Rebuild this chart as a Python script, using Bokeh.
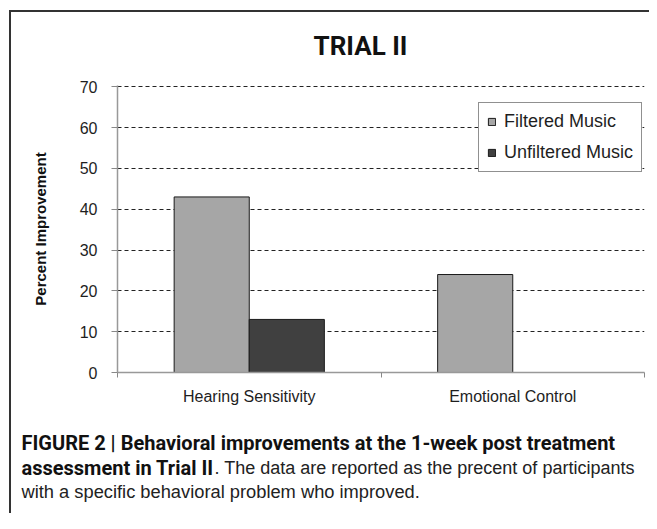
import numpy as np
from bokeh.plotting import figure
from bokeh.models import (ColumnDataSource, Range1d, FixedTicker, Legend, LegendItem, Label)
from bokeh.embed import file_html
from bokeh.resources import INLINE

# ---- data ----
categories = ["Hearing Sensitivity", "Emotional Control"]
series_names = ["Filtered Music", "Unfiltered Music"]
filtered = [43, 24]
unfiltered = [13, 0]
y_ticks = [0, 10, 20, 30, 40, 50, 60, 70]

title_text = "TRIAL II"
y_label = "Percent Improvement"
cap1 = "FIGURE 2 | Behavioral improvements at the 1-week post treatment"
cap2a = "assessment in Trial II"
cap2b = ". The data are reported as the precent of participants"
cap3 = "with a specific behavioral problem who improved."

BOLDF = "Roboto"
SANS = "Liberation Sans"

W, H = 649, 513
p = figure(width=W, height=H, output_backend="svg", toolbar_location=None,
           x_range=Range1d(0, len(categories)), y_range=Range1d(0, 70.3),
           min_border_left=117, min_border_right=5, min_border_top=85, min_border_bottom=141)
p.outline_line_color = None
p.background_fill_color = "white"
p.border_fill_color = None
p.styles = {
    "background-color": "white",
    "background-image": "linear-gradient(#333333, #333333), linear-gradient(#333333, #333333)",
    "background-size": "2px 100%, 100% 2px",
    "background-position": "9px 10px, 9px 10px",
    "background-repeat": "no-repeat",
}

centers = np.arange(len(categories)) + 0.5
bw = 0.285
src_f = ColumnDataSource(dict(x=centers - bw / 2, top=filtered))
src_u = ColumnDataSource(dict(x=centers + bw / 2, top=unfiltered))
r_f = p.vbar(x="x", top="top", width=bw, source=src_f, fill_color="#a6a6a6",
             line_color="#1a1a1a", line_width=1)
r_u = p.vbar(x="x", top="top", width=bw, source=src_u, fill_color="#404040",
             line_color="#1a1a1a", line_width=1)

# axes
p.xaxis.ticker = FixedTicker(ticks=list(centers), minor_ticks=list(range(len(categories) + 1)))
p.xaxis.major_label_overrides = {float(c): n for c, n in zip(centers, categories)}
p.xaxis.major_tick_out = 0
p.xaxis.major_tick_in = 0
p.xaxis.minor_tick_out = 5
p.xaxis.minor_tick_in = 0
p.xaxis.minor_tick_line_color = "#888888"
p.xaxis.axis_line_color = "#999999"
p.xaxis.axis_line_width = 1.5
p.xaxis.major_label_text_font = SANS
p.xaxis.major_label_text_font_size = "16px"
p.xaxis.major_label_text_color = "#1e1e1e"
p.xaxis.major_label_standoff = 10

p.yaxis.ticker = FixedTicker(ticks=y_ticks)
p.yaxis.minor_tick_line_color = None
p.yaxis.major_tick_out = 6
p.yaxis.major_tick_in = 0
p.yaxis.major_tick_line_color = "#888888"
p.yaxis.axis_line_color = "#999999"
p.yaxis.axis_line_width = 1.5
p.yaxis.major_label_text_font = SANS
p.yaxis.major_label_text_font_size = "16px"
p.yaxis.major_label_text_color = "#1e1e1e"
p.yaxis.major_label_standoff = 14
p.yaxis.axis_label = y_label
p.yaxis.axis_label_text_font = SANS
p.yaxis.axis_label_text_font_style = "bold"
p.yaxis.axis_label_text_font_size = "15px"
p.yaxis.axis_label_text_color = "#111111"
p.yaxis.axis_label_standoff = 28

p.xgrid.grid_line_color = None
p.ygrid.ticker = FixedTicker(ticks=y_ticks[1:])
p.ygrid.grid_line_color = "#222222"
p.ygrid.grid_line_dash = "4 3"
p.ygrid.grid_line_width = 1.2

# legend
legend = Legend(items=[LegendItem(label=series_names[0], renderers=[r_f]),
                       LegendItem(label=series_names[1], renderers=[r_u])],
                location=(361, 200), orientation="vertical")
legend.border_line_color = "#222222"
legend.border_line_width = 1.5
legend.background_fill_color = "white"
legend.background_fill_alpha = 1
legend.label_text_font = SANS
legend.label_text_font_size = "18px"
legend.label_text_color = "#1e1e1e"
legend.glyph_width = 9
legend.glyph_height = 9
legend.label_standoff = 8
legend.label_height = 20
legend.spacing = 10
legend.padding = 8
legend.margin = 0
p.add_layout(legend, "center")

# title (side panel, so it is not clipped to the frame)
p.add_layout(Label(x=360, y=45, x_units="canvas", y_units="canvas", text=title_text,
                   text_font=BOLDF, text_font_style="bold", text_font_size="26px",
                   text_align="center", text_baseline="middle", text_color="#111111"),
             "above")

# caption
cx = 21
caps = [
    (cx, 442, cap1, BOLDF, "bold", "20px", "#111111"),
    (cx, 467, cap2a, BOLDF, "bold", "20px", "#111111"),
    (cx + 193, 467, cap2b, SANS, "normal", "18px", "#222222"),
    (cx, 491, cap3, SANS, "normal", "18.3px", "#222222"),
]
for x, y, t, f, st, sz, c in caps:
    p.add_layout(Label(x=x, y=y, x_units="canvas", y_units="canvas", text=t,
                       text_font=f, text_font_style=st, text_font_size=sz,
                       text_baseline="middle", text_color=c), "below")

open("out.html", "w").write(file_html(p, INLINE))
